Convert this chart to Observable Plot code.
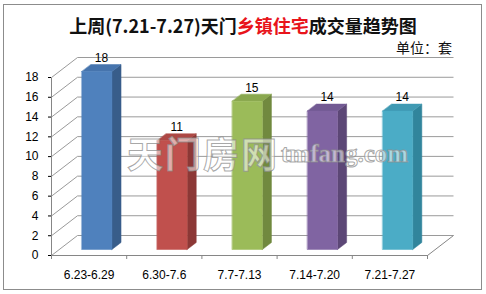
<!DOCTYPE html>
<html><head><meta charset="utf-8">
<script src="https://cdn.jsdelivr.net/npm/d3@7"></script>
<script src="https://cdn.jsdelivr.net/npm/@observablehq/plot@0.6"></script>
<style>
body{margin:0;background:#fff;}
#wrap{position:relative;width:486px;height:294px;overflow:hidden;background:#fff;}
#box{position:absolute;left:3px;top:4px;width:479px;height:286px;border:1px solid #8c8c8c;box-sizing:border-box;}
#chart{position:absolute;left:0;top:0;}
#title{position:absolute;left:0;top:16px;width:486px;text-align:center;font:bold 18px/18px "Noto Sans CJK SC",sans-serif;color:#111;white-space:nowrap;}
#title .r{color:#e8141b;}
#unit{position:absolute;right:34px;top:40px;font:14px/14px "Noto Sans CJK SC",sans-serif;color:#111;}
#wm1{position:absolute;left:127px;top:137px;font:bold 36px/30px "Noto Sans CJK SC",sans-serif;letter-spacing:2px;color:rgba(255,255,255,0.55);-webkit-text-stroke:1px rgba(140,140,140,0.75);}
#wm2{position:absolute;left:281px;top:143px;font:bold 25px/21px "Liberation Serif",serif;color:rgba(255,255,255,0.55);-webkit-text-stroke:1px rgba(140,140,140,0.75);}
</style>
</head>
<body>
<div id="wrap">
  <div id="box"></div>
  <div id="chart"></div>
  <div id="title">上周(7.21-7.27)天门<span class="r">乡镇住宅</span>成交量趋势图</div>
  <div id="unit">单位：套</div>
  <div id="wm1">天门房网</div>
  <div id="wm2">tmfang.com</div>
</div>
<script>
// ---- data ----
const categories = ["6.23-6.29", "6.30-7.6", "7.7-7.13", "7.14-7.20", "7.21-7.27"];
const values = [18, 11, 15, 14, 14];
const yTicks = [0, 2, 4, 6, 8, 10, 12, 14, 16, 18];

// ---- styles ----
const frontColors = ["#4f81bd", "#c0504d", "#9bbb59", "#8064a2", "#4bacc6"];
const sideColors  = ["#385d8a", "#8c3836", "#71893f", "#5c4776", "#31859c"];
const topColors   = ["#4674ad", "#ad4845", "#8aa84f", "#725a93", "#409ab3"];

// ---- layout ----
const W = 486, H = 294, mL = 51, mR = 59, mT = 77, mB = 39;
const n = categories.length;
const yMax = yTicks[yTicks.length - 1];
const pxX = (W - mL - mR) / n, pxY = (H - mT - mB) / yMax;
const DX = 26, DY = 20;               // 3D depth offset in pixels
const du = DX / pxX, dv = DY / pxY;   // same offset in data units
const P = (x, y, d) => ({x: x + d * du, y: y + d * dv});
const f0 = 0.3, f1 = 0.65, pad = 0.3;

// bar faces (polygons)
const faces = [];
categories.forEach((c, i) => {
  const v = values[i], xl = i + pad, xr = i + 1 - pad;
  const add = (id, color, pts) => pts.forEach(p => faces.push({...p, id: c + id, color}));
  add("side", sideColors[i], [P(xr, 0, f0), P(xr, 0, f1), P(xr, v, f1), P(xr, v, f0)]);
  add("top", topColors[i], [P(xl, v, f0), P(xr, v, f0), P(xr, v, f1), P(xl, v, f1)]);
  add("front", frontColors[i], [P(xl, 0, f0), P(xr, 0, f0), P(xr, v, f0), P(xl, v, f0)]);
});

// walls / grid
const grid = [];
yTicks.forEach(v => {
  grid.push({a: P(0, v, 1), b: P(n, v, 1)});
  grid.push({a: P(0, v, 0), b: P(0, v, 1)});
});
const axes = [
  {a: P(0, 0, 0), b: P(0, yMax, 0)},
  {a: P(0, 0, 0), b: P(n, 0, 0)},
  {a: P(n, 0, 0), b: P(n, 0, 1)}
];
const bounds = d3.range(n + 1);
const labels = categories.map((c, i) => ({...P(i + 0.5, values[i], (f0 + f1) / 2), t: String(values[i])}));

const chart = Plot.plot({
  width: W, height: H,
  marginLeft: mL, marginRight: mR, marginTop: mT, marginBottom: mB,
  style: {background: "transparent", fontFamily: "'Liberation Sans', Arial, sans-serif", fontSize: "12px", color: "#000"},
  color: {type: "identity"},
  x: {domain: [0, n], ticks: categories.map((c, i) => i + 0.5), tickFormat: d => categories[Math.floor(d)], tickSize: 0, tickPadding: 15, label: null},
  y: {domain: [0, yMax], ticks: yTicks, tickSize: 3, tickPadding: 10, label: null},
  marks: [
    Plot.link(grid, {x1: d => d.a.x, y1: d => d.a.y, x2: d => d.b.x, y2: d => d.b.y, stroke: "#9a9a9a", strokeWidth: 1}),
    Plot.link(axes, {x1: d => d.a.x, y1: d => d.a.y, x2: d => d.b.x, y2: d => d.b.y, stroke: "#868686", strokeWidth: 1}),
    Plot.ruleX(bounds, {x: d => d, y1: 0, y2: -4 / pxY, stroke: "#868686"}),
    Plot.line(faces, {x: "x", y: "y", z: "id", fill: "color", stroke: "color", strokeWidth: 0.5, curve: "linear-closed"}),
    Plot.text(labels, {x: "x", y: "y", text: "t", dy: -10, fill: "#000", fontSize: 12})
  ]
});
document.getElementById("chart").appendChild(chart);
</script>
</body></html>
